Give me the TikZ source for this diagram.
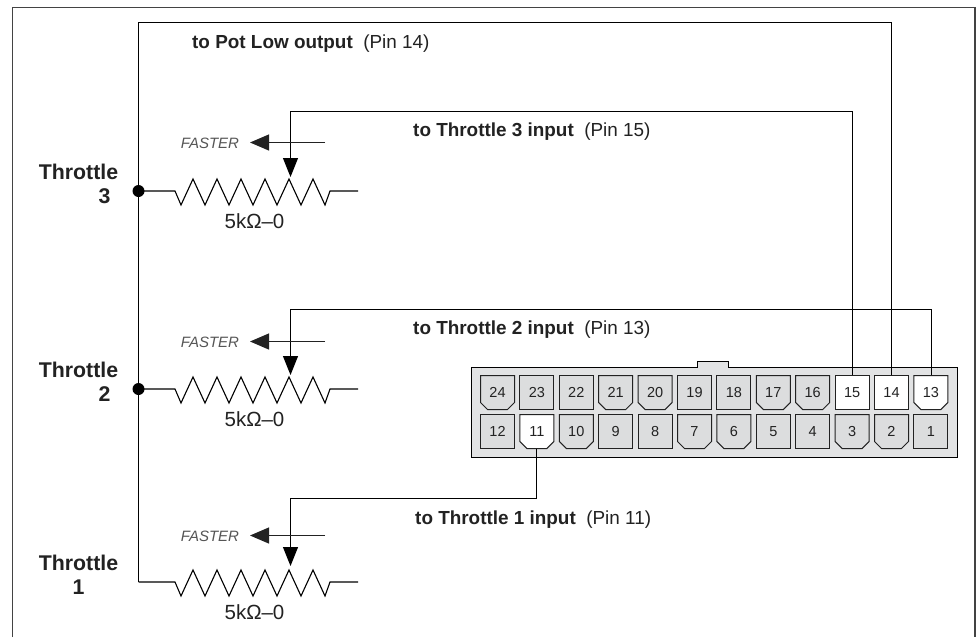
\documentclass[tikz,border=0pt]{standalone}
\usepackage{fontspec}
\setmainfont{Liberation Sans}
\usetikzlibrary{arrows.meta}
\definecolor{housing}{HTML}{E2E3E4}
\definecolor{pinfill}{HTML}{DCDDDE}
\definecolor{ink}{HTML}{222222}
\definecolor{fastergray}{HTML}{555555}
\tikzset{
  frameline/.style={draw=ink!85,line width=1.2pt},
  wire/.style={draw=black,line width=1.1pt},
  wiper/.style={wire,-{Triangle[length=19pt,width=15pt]}},
  fasterarrow/.style={draw=ink,line width=1.1pt,-{Triangle[length=19pt,width=16pt]}},
  fasterlabel/.style={font=\fontsize{15}{16}\selectfont\itshape,text=fastergray,inner sep=0pt},
  valuelabel/.style={font=\fontsize{20.5}{22}\selectfont,text=ink,inner sep=0pt},
  throttlelabel/.style={font=\fontsize{21.3}{24.5}\selectfont\bfseries,text=ink,align=center,inner sep=0pt},
  wirelabel/.style={font=\fontsize{18.9}{20}\selectfont,text=ink,anchor=west,inner sep=0pt},
  pinlabel/.style={font=\fontsize{14.5}{16}\selectfont,text=ink,inner sep=0pt,minimum width=34pt,minimum height=34pt},
  pinoutline/.style={draw=ink,line width=1pt},
  junction/.style={circle,fill=black,inner sep=0pt,minimum size=12pt},
}
% #1 name, #2 x, #3 y, #4 fill, #5 chamfer (0 = square)
\newcommand{\connpin}[5]{%
  \path[pinoutline,fill=#4] (#2,#3) -- ++(34,0) -- ++(0,{34-#5}) -- ++({-#5},#5) -- ++({-34+2*#5},0) -- ++({-#5},{-#5}) -- cycle;
  \node[pinlabel] (pin#1) at ({#2+17},{#3+17}) {#1};
}
% #1 id, #2 y of resistor axis
\newcommand{\potzig}[2]{%
  \draw[wire,line join=miter] (#1start) -- (175,#2) -- (181,#2+14) -- (193,#2-12) -- (205,#2+14) -- (217,#2-12) -- (229,#2+14) -- (241,#2-12) -- (253,#2+14) -- (265,#2-12) -- (277,#2+14) -- (289,#2-12) -- (301,#2+14) -- (313,#2-12) -- (325,#2+14) -- (330,#2) -- (358,#2);
  \node[valuelabel] (val#1) at (254.5,#2+30) {5kΩ–0};
}
\begin{document}
\begin{tikzpicture}[x=1pt,y=-1pt]
\useasboundingbox (0,0) rectangle (976,637);
\fill[white] (0,0) rectangle (976,637);
% frame
\draw[frameline] (12.5,637) -- (12.5,7.5) -- (975,7.5) -- (975,637);
% housing
\path[draw=black,line width=1.5pt,fill=housing] (471.5,367.5) -- (697.5,367.5) -- (697.5,361.5) -- (728.5,361.5) -- (728.5,367.5) -- (957.5,367.5) -- (957.5,457.5) -- (471.5,457.5) -- cycle;
% pins
\foreach \n/\c/\ch/\f in {24/0/7/pinfill,23/1/0/pinfill,22/2/0/pinfill,21/3/7/pinfill,20/4/7/pinfill,19/5/0/pinfill,18/6/0/pinfill,17/7/7/pinfill,16/8/7/pinfill,15/9/0/white,14/10/0/white,13/11/7/white}
  {\connpin{\n}{480.5+39.4*\c}{375.5}{\f}{\ch}}
\foreach \n/\c/\ch/\f in {12/0/0/pinfill,11/1/7/white,10/2/7/pinfill,9/3/0/pinfill,8/4/0/pinfill,7/5/7/pinfill,6/6/7/pinfill,5/7/0/pinfill,4/8/0/pinfill,3/9/7/pinfill,2/10/7/pinfill,1/11/0/pinfill}
  {\connpin{\n}{480.5+39.4*\c}{414.5}{\f}{\ch}}
% common rail
\node[junction] (j3) at (138.5,191) {};
\node[junction] (j2) at (138.5,389) {};
\coordinate (1start) at (138.5,582);
\coordinate (2start) at (j2);
\coordinate (3start) at (j3);
\coordinate (lowtop) at (138.5,22.5);
\draw[wire] (pin14.north) |- (lowtop) -- (j3) -- (j2) -- (1start);
% pots
\potzig{3}{191}
\potzig{2}{389}
\potzig{1}{582}
% wipers
\coordinate (w3) at (290.5,111.5); \coordinate (t3) at (290.5,177);
\coordinate (w2) at (290.5,309.5); \coordinate (t2) at (290.5,375);
\coordinate (w1) at (290.5,498.5); \coordinate (t1) at (290.5,566);
\draw[wiper] (pin15.north) |- (w3) -- (t3);
\draw[wiper] ([xshift=1pt]pin13.north) |- (w2) -- (t2);
\draw[wiper] (pin11.south) |- (w1) -- (t1);
% faster arrows
\foreach \y/\k in {142.5/3,341.5/2,535.5/1}{
  \coordinate (fs\k) at (325,\y);
  \coordinate (fe\k) at (250,\y);
  \draw[fasterarrow] (fs\k) -- (fe\k);
  \node[fasterlabel] (fl\k) at (210,\y+1) {FASTER};
}
% labels
\node[throttlelabel] (th3) at (78.5,184) {Throttle\\\hspace*{52pt}3};
\node[throttlelabel] (th2) at (78.5,382) {Throttle\\\hspace*{52pt}2};
\node[throttlelabel] (th1) at (78.5,575) {Throttle\\1};
\node[wirelabel] (lp) at (192,44) {\textbf{to Pot Low output}\ \ (Pin 14)};
\node[wirelabel] (l3) at (413,132) {\textbf{to Throttle 3 input}\ \ (Pin 15)};
\node[wirelabel] (l2) at (413,330) {\textbf{to Throttle 2 input}\ \ (Pin 13)};
\node[wirelabel] (l1) at (415,520) {\textbf{to Throttle 1 input}\ \ (Pin 11)};
\end{tikzpicture}
\end{document}
